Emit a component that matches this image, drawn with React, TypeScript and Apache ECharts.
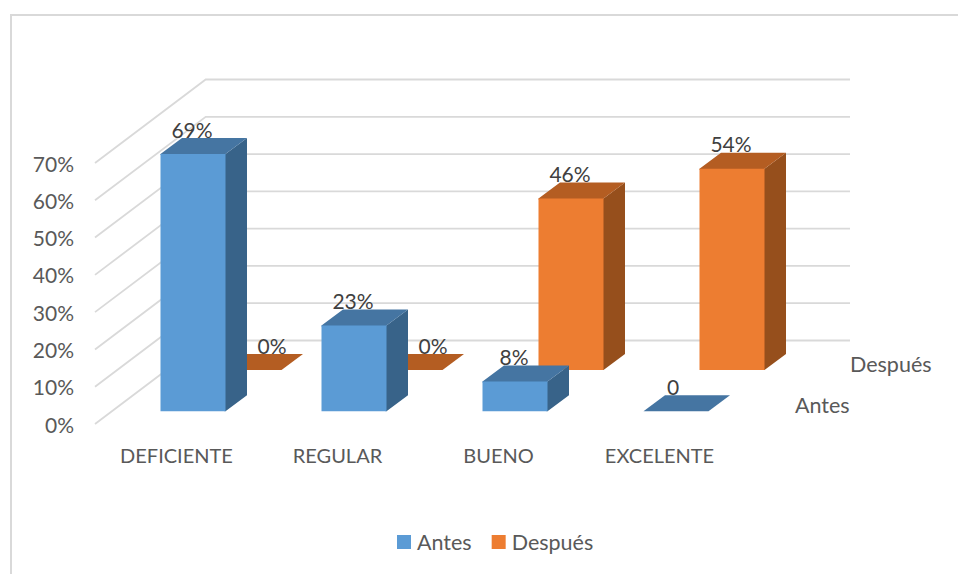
import React, { useEffect, useRef } from "react";
import * as echarts from "echarts";

const categories = ["DEFICIENTE", "REGULAR", "BUENO", "EXCELENTE"];
const antesValues = [69, 23, 8, 0];
const despuesValues = [0, 0, 46, 54];
const antesLabels = ["69%", "23%", "8%", "0"];
const despuesLabels = ["0%", "0%", "46%", "54%"];
const yTicks = [0, 10, 20, 30, 40, 50, 60, 70];

const FONT = "Lato";
const FONT_SIZE = 20;
const VALUE_FONT_SIZE = 21;
const LEGEND_FONT_SIZE = 21.5;
const GRID_LINE = "#d9d9d9";

const barShape = { halfWidth: 32.5, depthX: 21.5, depthY: 16 };

function barRenderer(
  labels: string[],
  colors: { front: string; top: string; side: string },
  shiftX: number,
  shiftY: number,
  zeroLabelShift: number
) {
  return (params: any, api: any) => {
    const i = api.value(0);
    const v = api.value(1);
    const base = api.coord([i, 0]);
    const top = api.coord([i, v]);
    const cx = base[0] + shiftX;
    const yb = base[1] - shiftY;
    const yt = top[1] - shiftY;
    const x0 = cx - barShape.halfWidth;
    const x1 = cx + barShape.halfWidth;
    const dx = barShape.depthX;
    const dy = barShape.depthY;
    const children: any[] = [];
    if (v > 0) {
      children.push({
        type: "polygon",
        shape: { points: [[x1 - 1, yb], [x1, yb], [x1 + dx, yb - dy], [x1 + dx, yt - dy], [x1, yt], [x1 - 1, yt]] },
        style: { fill: colors.side },
      });
    }
    children.push({
      type: "polygon",
      shape: {
        points:
          v > 0
            ? [[x0, yt + 1], [x1, yt + 1], [x1, yt], [x1 + dx, yt - dy], [x0 + dx, yt - dy], [x0, yt]]
            : [[x0, yt], [x1, yt], [x1 + dx, yt - dy], [x0 + dx, yt - dy]],
      },
      style: { fill: colors.top },
    });
    if (v > 0) {
      children.push({
        type: "polygon",
        shape: { points: [[x0, yb], [x1, yb], [x1, yt], [x0, yt]] },
        style: { fill: colors.front },
      });
    }
    children.push({
      type: "text",
      style: {
        text: labels[params.dataIndex],
        x: cx + (v === 0 ? zeroLabelShift : -1),
        y: yt - dy - 9,
        align: "center",
        verticalAlign: "middle",
        fill: "#404040",
        font: `${VALUE_FONT_SIZE}px ${FONT}`,
      },
    });
    return { type: "group", children };
  };
}

function gridRenderer(params: any, api: any) {
  const front = api.coord([0, api.value(0)]);
  const left = params.coordSys.x - 1;
  return {
    type: "polyline",
    shape: {
      points: [
        [left, front[1]],
        [left + 110.7, front[1] - 83.5],
        [850, front[1] - 83.5],
      ],
    },
    style: { fill: "none", stroke: GRID_LINE, lineWidth: 1.8 },
  };
}

export default function App() {
  const ref = useRef<HTMLDivElement>(null);
  useEffect(() => {
    const chart = echarts.init(ref.current!, undefined, { renderer: "svg" });
    const blue = { front: "#5B9BD5", top: "#4575A2", side: "#386389" };
    const orange = { front: "#ED7D31", top: "#B45D22", side: "#964F1C" };
    const textStyle = { fontFamily: FONT, fontSize: FONT_SIZE, color: "#595959" };
    chart.setOption({
      animation: false,
      backgroundColor: "#ffffff",
      textStyle: { fontFamily: FONT },
      grid: { left: 96, top: 163, width: 644, height: 261 },
      xAxis: {
        type: "category",
        data: categories,
        axisLine: { show: false },
        axisTick: { show: false },
        splitLine: { show: false },
        axisLabel: { ...textStyle, interval: 0, margin: 21 },
      },
      yAxis: {
        type: "value",
        min: 0,
        max: 70,
        interval: 10,
        axisLine: { show: false },
        axisTick: { show: false },
        splitLine: { show: false },
        axisLabel: { ...textStyle, fontSize: VALUE_FONT_SIZE, margin: 22, formatter: "{value}%" },
      },
      legend: {
        left: 397,
        top: 531,
        padding: 0,
        itemWidth: 14,
        itemHeight: 14,
        itemGap: 20,
        icon: "rect",
        selectedMode: false,
        data: ["Antes", "Después"],
        textStyle: { ...textStyle, fontSize: LEGEND_FONT_SIZE, padding: [0, 0, 0, 1] },
      },
      series: [
        {
          type: "custom",
          name: "grid",
          renderItem: gridRenderer,
          data: yTicks.map((t) => [t]),
          encode: { y: 0 },
          silent: true,
        },
        {
          type: "custom",
          name: "Después",
          itemStyle: { color: orange.front },
          renderItem: barRenderer(despuesLabels, orange, 72.5, 54, 23),
          data: despuesValues.map((v, i) => [i, v]),
          encode: { x: 0, y: 1 },
        },
        {
          type: "custom",
          name: "Antes",
          itemStyle: { color: blue.front },
          renderItem: barRenderer(antesLabels, blue, 16.5, 12.7, -3),
          data: antesValues.map((v, i) => [i, v]),
          encode: { x: 0, y: 1 },
        },
      ],
      graphic: [
        {
          type: "polyline",
          shape: { points: [[11, 574], [11, 15], [958, 15]] },
          style: { fill: "none", stroke: GRID_LINE, lineWidth: 2 },
        },
        {
          type: "text",
          x: 850,
          y: 364,
          style: { text: "Después", fill: "#595959", font: `${LEGEND_FONT_SIZE}px ${FONT}`, verticalAlign: "middle" },
        },
        {
          type: "text",
          x: 795,
          y: 405,
          style: { text: "Antes", fill: "#595959", font: `${LEGEND_FONT_SIZE}px ${FONT}`, verticalAlign: "middle" },
        },
      ],
    });
    return () => chart.dispose();
  }, []);
  return (
    <div
      ref={ref}
      style={{ position: "fixed", left: 0, top: 0, width: 958, height: 574, background: "#fff" }}
    />
  );
}
